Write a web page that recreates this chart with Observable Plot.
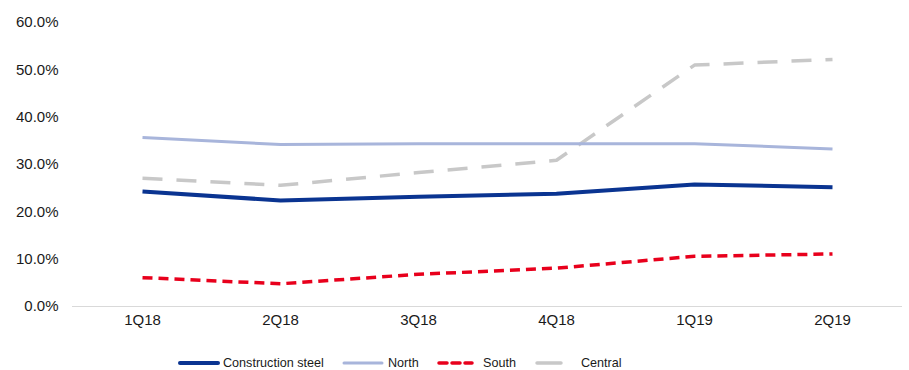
<!DOCTYPE html>
<html>
<head>
<meta charset="utf-8">
<script src="https://cdn.jsdelivr.net/npm/d3@7"></script>
<script src="https://cdn.jsdelivr.net/npm/@observablehq/plot@0.6"></script>
<style>
  html, body { margin: 0; padding: 0; background: #fff; }
  body { width: 909px; height: 370px; position: relative; font-family: "Liberation Sans", Arial, sans-serif; }
  #legend { position: absolute; left: 0; top: 353px; width: 909px; height: 20px; font-size: 12.6px; color: #1a1a1a; }
  .item { position: absolute; top: 0; height: 20px; display: flex; align-items: center; }
  .item svg { display: block; }
</style>
</head>
<body>
<div id="chart"></div>
<div id="legend"></div>
<script>
const quarters = ["1Q18", "2Q18", "3Q18", "4Q18", "1Q19", "2Q19"];
const seriesNames = ["Construction steel", "North", "South", "Central"];
const constructionSteel = [0.243, 0.224, 0.232, 0.238, 0.258, 0.252];
const north = [0.357, 0.342, 0.344, 0.344, 0.344, 0.333];
const south = [0.061, 0.048, 0.068, 0.081, 0.106, 0.111];
const central = [0.271, 0.256, 0.283, 0.309, 0.510, 0.522];
const yTicks = [0, 0.1, 0.2, 0.3, 0.4, 0.5, 0.6];

const styles = {
  "Construction steel": {stroke: "#0A3491", width: 4, dash: null},
  "North": {stroke: "#A8B5DB", width: 3, dash: null},
  "South": {stroke: "#E8001C", width: 3.5, dash: "10,6"},
  "Central": {stroke: "#C8C8C8", width: 3.5, dash: "20,14"}
};

const valuesBySeries = [constructionSteel, north, south, central];
const rows = [];
seriesNames.forEach((s, i) => quarters.forEach((q, j) => rows.push({series: s, quarter: q, value: valuesBySeries[i][j]})));

const drawOrder = ["Central", "North", "Construction steel", "South"];
const lineMarks = drawOrder.map(s => Plot.line(rows.filter(d => d.series === s), {
  x: "quarter", y: "value",
  stroke: styles[s].stroke, strokeWidth: styles[s].width,
  strokeDasharray: styles[s].dash, strokeLinecap: "butt", strokeLinejoin: "round"
}));

const chart = Plot.plot({
  width: 909,
  height: 340,
  marginLeft: 72,
  marginRight: 7,
  marginTop: 22,
  marginBottom: 34,
  style: {fontFamily: "'Liberation Sans', Arial, sans-serif", fontSize: "15px", color: "#1a1a1a", background: "#fff"},
  x: {type: "point", domain: quarters, padding: 0.5, label: null},
  y: {domain: [0, 0.6], label: null},
  marks: [
    Plot.ruleY([0], {stroke: "#D9D9D9", strokeWidth: 1}),
    Plot.axisY({ticks: yTicks, tickFormat: d3.format(".1%"), tickSize: 0, tickPadding: 14, fontSize: 15, label: null}),
    Plot.axisX({tickSize: 0, tickPadding: 8, fontSize: 15, label: null}),
    ...lineMarks
  ]
});
document.getElementById("chart").appendChild(chart);

const legendPos = {
  "Construction steel": {x: 178, w: 42, tx: 223},
  "North": {x: 342, w: 42, tx: 388},
  "South": {x: 437, w: 37, tx: 483},
  "Central": {x: 535, w: 28, tx: 581}
};
const legend = document.getElementById("legend");
seriesNames.forEach(s => {
  const p = legendPos[s], st = styles[s];
  const sw = document.createElement("div");
  sw.className = "item";
  sw.style.left = p.x + "px";
  sw.innerHTML = `<svg width="${p.w}" height="20"><line x1="2" x2="${p.w - 2}" y1="10" y2="10" stroke="${st.stroke}" stroke-width="${st.width}" ${s === 'South' ? 'stroke-dasharray="8,5"' : ''} stroke-linecap="round"/></svg>`;
  legend.appendChild(sw);
  const t = document.createElement("div");
  t.className = "item";
  t.style.left = p.tx + "px";
  t.textContent = s;
  legend.appendChild(t);
});
</script>
</body>
</html>
